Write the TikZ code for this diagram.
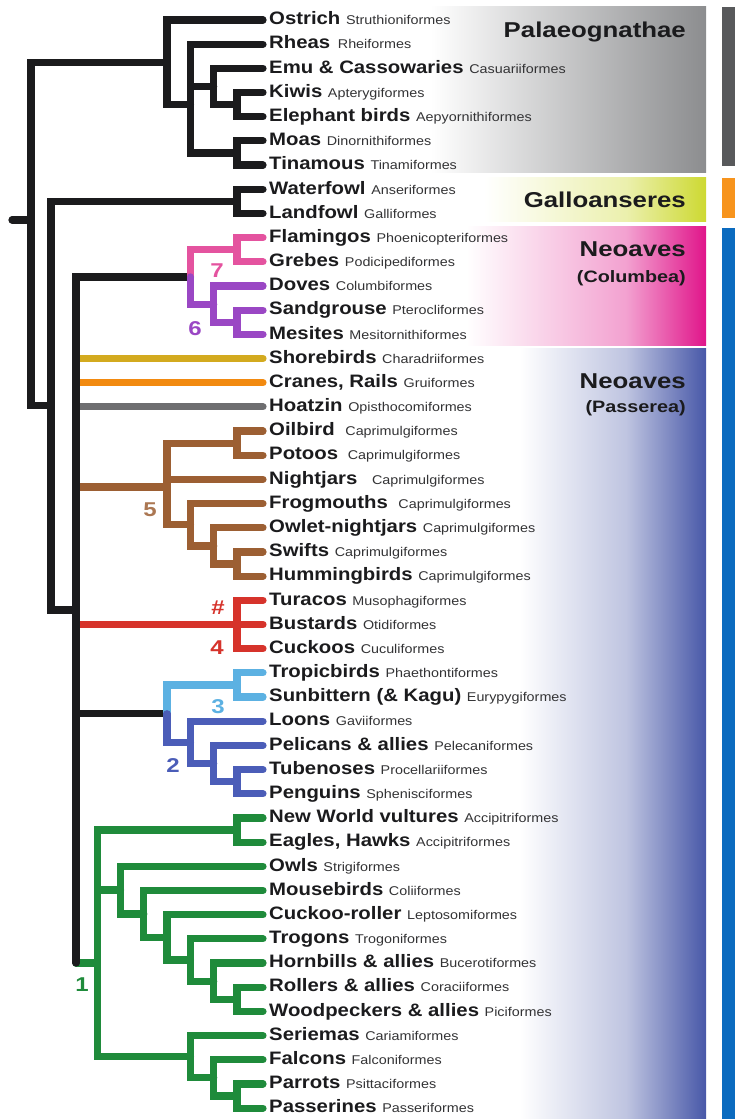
\documentclass[tikz,border=0pt]{standalone}
\usepackage{fontspec}
\setmainfont{Liberation Sans}[FakeStretch=1.2]
\newfontfamily\taxfont[FakeStretch=1.13]{Liberation Sans}
\usepackage{xcolor}
\usepackage{tikz}
\usetikzlibrary{calc}
\definecolor{ink}{HTML}{1B1B1D}
\definecolor{ordink}{HTML}{333335}
\definecolor{pinkcl}{HTML}{E4539F}
\definecolor{purplecl}{HTML}{9A47C4}
\definecolor{browncl}{HTML}{9C5F33}
\definecolor{redcl}{HTML}{D6332B}
\definecolor{ltbluecl}{HTML}{5CB1E2}
\definecolor{bluecl}{HTML}{4B5DB8}
\definecolor{greencl}{HTML}{1F8B3B}
\definecolor{goldcl}{HTML}{D3AA1F}
\definecolor{orangecl}{HTML}{F28A10}
\definecolor{graycl}{HTML}{6E6E70}
\definecolor{palgray}{HTML}{8C8D8F}
\definecolor{galgreen}{HTML}{CDD932}
\definecolor{colpink}{HTML}{E0158A}
\definecolor{pasblue}{HTML}{4858A8}
\definecolor{barpal}{HTML}{58595B}
\definecolor{barorange}{HTML}{F7941D}
\definecolor{barblue}{HTML}{0B6BBF}
\colorlet{galmid}{galgreen!40!white}
\colorlet{colmid}{colpink!40!white}
\colorlet{pasmid}{pasblue!35!white}
\pgfdeclarehorizontalshading{palshade}{100bp}{color(0bp)=(white); color(44bp)=(white); color(75bp)=(palgray); color(100bp)=(palgray)}
\pgfdeclarehorizontalshading{galshade}{100bp}{color(0bp)=(white); color(50bp)=(white); color(66bp)=(galmid); color(75bp)=(galgreen); color(100bp)=(galgreen)}
\pgfdeclarehorizontalshading{colshade}{100bp}{color(0bp)=(white); color(48bp)=(white); color(66bp)=(colmid); color(75bp)=(colpink); color(100bp)=(colpink)}
\pgfdeclarehorizontalshading{passhade}{100bp}{color(0bp)=(white); color(54bp)=(white); color(66bp)=(pasmid); color(75bp)=(pasblue); color(100bp)=(pasblue)}
\newcommand{\ord}[1]{{\fontsize{12.7}{13}\selectfont\mdseries\color{ordink}#1}}

\begin{document}
\begin{tikzpicture}[x=1pt,y=-24.18pt]
\tikzset{br/.style={line width=7.2pt,line cap=round,draw=ink}, taxon/.style={anchor=west,inner xsep=6pt,inner ysep=0pt,text height=12.5pt,text depth=3pt,text=ink,font=\taxfont\fontsize{18}{18}\selectfont\bfseries}, grp/.style={anchor=base east,inner sep=0pt,text=ink,font=\fontsize{21.5}{22}\selectfont\bfseries}, sub/.style={grp,font=\fontsize{16.5}{17}\selectfont\bfseries}, num/.style={anchor=base,inner sep=0pt,font=\fontsize{20}{20}\selectfont\bfseries}}
\useasboundingbox (0,-0.8271) rectangle (735,45.451);
% clade panels and side bars
\shade[shading=palshade] (262,-0.5376) rectangle (706,6.3275);
\shade[shading=galshade] (262,6.534) rectangle (706,8.313);
\shade[shading=colshade] (262,8.520) rectangle (706,13.441);
\shade[shading=passhade] (262,13.606) rectangle (706,45.451);
\fill[barpal] (722,-0.5376) rectangle (735,6.038);
\fill[barorange] (722,6.534) rectangle (735,8.189);
\fill[barblue] (722,8.602) rectangle (735,45.451);
\node[grp] (palaeo) at (686,0.744) {Palaeognathae};
\node[grp] (galloans) at (686,7.77) {Galloanseres};
\node[grp] (neocol) at (686,9.80) {Neoaves};
\node[sub] (columbea) at (686,10.84) {(Columbea)};
\node[grp] (neopas) at (686,15.22) {Neoaves};
\node[sub] (passerea) at (686,16.25) {(Passerea)};
% taxa
\node[taxon] (ostrich) at (263,0) {Ostrich \ord{Struthioniformes}};
\node[taxon] (rheas) at (263,1) {Rheas\hspace{2pt} \ord{Rheiformes}};
\node[taxon] (emus) at (263,2) {Emu \& Cassowaries \ord{Casuariiformes}};
\node[taxon] (kiwis) at (263,3) {Kiwis \ord{Apterygiformes}};
\node[taxon] (elephant) at (263,4) {Elephant birds \ord{Aepyornithiformes}};
\node[taxon] (moas) at (263,5) {Moas \ord{Dinornithiformes}};
\node[taxon] (tinamous) at (263,6) {Tinamous \ord{Tinamiformes}};
\node[taxon] (waterfowl) at (263,7) {Waterfowl \ord{Anseriformes}};
\node[taxon] (landfowl) at (263,8) {Landfowl \ord{Galliformes}};
\node[taxon] (flamingos) at (263,9) {Flamingos \ord{Phoenicopteriformes}};
\node[taxon] (grebes) at (263,10) {Grebes \ord{Podicipediformes}};
\node[taxon] (doves) at (263,11) {Doves \ord{Columbiformes}};
\node[taxon] (sandgrouse) at (263,12) {Sandgrouse \ord{Pterocliformes}};
\node[taxon] (mesites) at (263,13) {Mesites \ord{Mesitornithiformes}};
\node[taxon] (shorebirds) at (263,14) {Shorebirds \ord{Charadriiformes}};
\node[taxon] (cranes) at (263,15) {Cranes, Rails \ord{Gruiformes}};
\node[taxon] (hoatzin) at (263,16) {Hoatzin \ord{Opisthocomiformes}};
\node[taxon] (oilbird) at (263,17) {Oilbird\hspace{5pt} \ord{Caprimulgiformes}};
\node[taxon] (potoos) at (263,18) {Potoos\hspace{4pt} \ord{Caprimulgiformes}};
\node[taxon] (nightjars) at (263,19) {Nightjars\hspace{9pt} \ord{Caprimulgiformes}};
\node[taxon] (frogmouths) at (263,20) {Frogmouths\hspace{5pt} \ord{Caprimulgiformes}};
\node[taxon] (owletnj) at (263,21) {Owlet-nightjars \ord{Caprimulgiformes}};
\node[taxon] (swifts) at (263,22) {Swifts \ord{Caprimulgiformes}};
\node[taxon] (hummers) at (263,23) {Hummingbirds \ord{Caprimulgiformes}};
\node[taxon] (turacos) at (263,24) {Turacos \ord{Musophagiformes}};
\node[taxon] (bustards) at (263,25) {Bustards \ord{Otidiformes}};
\node[taxon] (cuckoos) at (263,26) {Cuckoos \ord{Cuculiformes}};
\node[taxon] (tropicbirds) at (263,27) {Tropicbirds \ord{Phaethontiformes}};
\node[taxon] (sunbittern) at (263,28) {Sunbittern (\& Kagu) \ord{Eurypygiformes}};
\node[taxon] (loons) at (263,29) {Loons \ord{Gaviiformes}};
\node[taxon] (pelicans) at (263,30) {Pelicans \& allies \ord{Pelecaniformes}};
\node[taxon] (tubenoses) at (263,31) {Tubenoses \ord{Procellariiformes}};
\node[taxon] (penguins) at (263,32) {Penguins \ord{Sphenisciformes}};
\node[taxon] (nwvultures) at (263,33) {New World vultures \ord{Accipitriformes}};
\node[taxon] (eagles) at (263,34) {Eagles, Hawks \ord{Accipitriformes}};
\node[taxon] (owls) at (263,35) {Owls \ord{Strigiformes}};
\node[taxon] (mousebirds) at (263,36) {Mousebirds \ord{Coliiformes}};
\node[taxon] (cuckooroller) at (263,37) {Cuckoo-roller \ord{Leptosomiformes}};
\node[taxon] (trogons) at (263,38) {Trogons \ord{Trogoniformes}};
\node[taxon] (hornbills) at (263,39) {Hornbills \& allies \ord{Bucerotiformes}};
\node[taxon] (rollers) at (263,40) {Rollers \& allies \ord{Coraciiformes}};
\node[taxon] (woodpeckers) at (263,41) {Woodpeckers \& allies \ord{Piciformes}};
\node[taxon] (seriemas) at (263,42) {Seriemas \ord{Cariamiformes}};
\node[taxon] (falcons) at (263,43) {Falcons \ord{Falconiformes}};
\node[taxon] (parrots) at (263,44) {Parrots \ord{Psittaciformes}};
\node[taxon] (passerines) at (263,45) {Passerines \ord{Passeriformes}};
% internal nodes
\coordinate (stub) at (12,8.27);
\coordinate (root) at (31,8.27);
\coordinate (pal) at (167,1.75);
\coordinate (rat) at (190.4,3.5);
\coordinate (casap) at (213.7,2.75);
\coordinate (apae) at (237,3.5);
\coordinate (dintin) at (237,5.5);
\coordinate (neog) at (51,15.95);
\coordinate (galo) at (237,7.5);
\coordinate (neoav) at (76,24.4);
\coordinate (colb) at (190.4,10.625);
\coordinate (mirand) at (237,9.5);
\coordinate (cpm) at (213.7,11.75);
\coordinate (ptme) at (237,12.5);
\coordinate (strisor) at (167,19.31);
\coordinate (stea) at (237,17.5);
\coordinate (podap) at (190.4,20.875);
\coordinate (aeg) at (213.7,21.75);
\coordinate (apod) at (237,22.5);
\coordinate (otid) at (237,25);
\coordinate (aequ) at (167,28.69);
\coordinate (eury) at (237,27.5);
\coordinate (aeqn) at (190.4,29.875);
\coordinate (pelpr) at (213.7,30.75);
\coordinate (procs) at (237,31.5);
\coordinate (tellur) at (97.2,39);
\coordinate (accip) at (237,33.5);
\coordinate (corac) at (120.5,35.98);
\coordinate (coliid) at (143.8,36.97);
\coordinate (lepto) at (167,37.94);
\coordinate (trog) at (190.4,38.875);
\coordinate (buce) at (213.7,39.75);
\coordinate (picor) at (237,40.5);
\coordinate (austr) at (190.4,42.875);
\coordinate (psit) at (213.7,43.75);
\coordinate (psipas) at (237,44.5);
% black backbone
\draw[br] (stub) -- (root);
\draw[br] (root) |- (pal);
\draw[br] (root) |- (neog);
\draw[br] (pal) |- (ostrich.west);
\draw[br] (pal) |- (rat);
\draw[br] (rat) |- (rheas.west);
\draw[br] (rat) |- (casap);
\draw[br] (rat) |- (dintin);
\draw[br] (casap) |- (emus.west);
\draw[br] (casap) |- (apae);
\draw[br] (apae) |- (kiwis.west);
\draw[br] (apae) |- (elephant.west);
\draw[br] (dintin) |- (moas.west);
\draw[br] (dintin) |- (tinamous.west);
\draw[br] (neog) |- (galo);
\draw[br] (neog) |- (neoav);
\draw[br] (galo) |- (waterfowl.west);
\draw[br] (galo) |- (landfowl.west);
\draw[br] (neoav) |- (colb);
\draw[br] (neoav) |- (aequ);
% 7 and 6
\draw[br,draw=pinkcl] (colb) |- (mirand);
\draw[br,draw=pinkcl] (mirand) |- (flamingos.west);
\draw[br,draw=pinkcl] (mirand) |- (grebes.west);
\draw[br,draw=purplecl] (colb) |- (cpm);
\draw[br,draw=purplecl] (cpm) |- (doves.west);
\draw[br,draw=purplecl] (cpm) |- (ptme);
\draw[br,draw=purplecl] (ptme) |- (sandgrouse.west);
\draw[br,draw=purplecl] (ptme) |- (mesites.west);
% orphans
\draw[br,draw=goldcl] (neoav |- shorebirds.west) -- (shorebirds.west);
\draw[br,draw=orangecl] (neoav |- cranes.west) -- (cranes.west);
\draw[br,draw=graycl] (neoav |- hoatzin.west) -- (hoatzin.west);
% 5
\draw[br,draw=browncl] (neoav |- strisor) -- (strisor);
\draw[br,draw=browncl] (strisor) |- (stea);
\draw[br,draw=browncl] (strisor) |- (nightjars.west);
\draw[br,draw=browncl] (strisor) |- (podap);
\draw[br,draw=browncl] (stea) |- (oilbird.west);
\draw[br,draw=browncl] (stea) |- (potoos.west);
\draw[br,draw=browncl] (podap) |- (frogmouths.west);
\draw[br,draw=browncl] (podap) |- (aeg);
\draw[br,draw=browncl] (aeg) |- (owletnj.west);
\draw[br,draw=browncl] (aeg) |- (apod);
\draw[br,draw=browncl] (apod) |- (swifts.west);
\draw[br,draw=browncl] (apod) |- (hummers.west);
% 4
\draw[br,draw=redcl] (neoav |- bustards.west) -- (bustards.west);
\draw[br,draw=redcl] (otid) |- (turacos.west);
\draw[br,draw=redcl] (otid) |- (cuckoos.west);
% 3 and 2
\draw[br,draw=ltbluecl] (aequ) |- (eury);
\draw[br,draw=ltbluecl] (eury) |- (tropicbirds.west);
\draw[br,draw=ltbluecl] (eury) |- (sunbittern.west);
\draw[br,draw=bluecl] (aequ) |- (aeqn);
\draw[br,draw=bluecl] (aeqn) |- (loons.west);
\draw[br,draw=bluecl] (aeqn) |- (pelpr);
\draw[br,draw=bluecl] (pelpr) |- (pelicans.west);
\draw[br,draw=bluecl] (pelpr) |- (procs);
\draw[br,draw=bluecl] (procs) |- (tubenoses.west);
\draw[br,draw=bluecl] (procs) |- (penguins.west);
% 1
\draw[br,draw=greencl] (neoav |- tellur) -- (tellur);
\draw[br,draw=greencl] (tellur) |- (accip);
\draw[br,draw=greencl] (tellur) |- (corac);
\draw[br,draw=greencl] (tellur) |- (austr);
\draw[br,draw=greencl] (accip) |- (nwvultures.west);
\draw[br,draw=greencl] (accip) |- (eagles.west);
\draw[br,draw=greencl] (corac) |- (owls.west);
\draw[br,draw=greencl] (corac) |- (coliid);
\draw[br,draw=greencl] (coliid) |- (mousebirds.west);
\draw[br,draw=greencl] (coliid) |- (lepto);
\draw[br,draw=greencl] (lepto) |- (cuckooroller.west);
\draw[br,draw=greencl] (lepto) |- (trog);
\draw[br,draw=greencl] (trog) |- (trogons.west);
\draw[br,draw=greencl] (trog) |- (buce);
\draw[br,draw=greencl] (buce) |- (hornbills.west);
\draw[br,draw=greencl] (buce) |- (picor);
\draw[br,draw=greencl] (picor) |- (rollers.west);
\draw[br,draw=greencl] (picor) |- (woodpeckers.west);
\draw[br,draw=greencl] (austr) |- (seriemas.west);
\draw[br,draw=greencl] (austr) |- (psit);
\draw[br,draw=greencl] (psit) |- (falcons.west);
\draw[br,draw=greencl] (psit) |- (psipas);
\draw[br,draw=greencl] (psipas) |- (parrots.west);
\draw[br,draw=greencl] (psipas) |- (passerines.west);
\draw[br] (neoav |- colb) -- (neoav |- tellur);
% clade numbers
\node[num,text=pinkcl] (n7) at (217,10.63) {7};
\node[num,text=purplecl] (n6) at (195,13.03) {6};
\node[num,text=browncl!85!white] (n5) at (150,20.55) {5};
\node[num,text=redcl] (nhash) at (218,24.6) {\#};
\node[num,text=redcl] (n4) at (217,26.22) {4};
\node[num,text=ltbluecl] (n3) at (218,28.66) {3};
\node[num,text=bluecl] (n2) at (173,31.14) {2};
\node[num,text=greencl] (n1) at (82,40.16) {1};
\end{tikzpicture}
\end{document}
